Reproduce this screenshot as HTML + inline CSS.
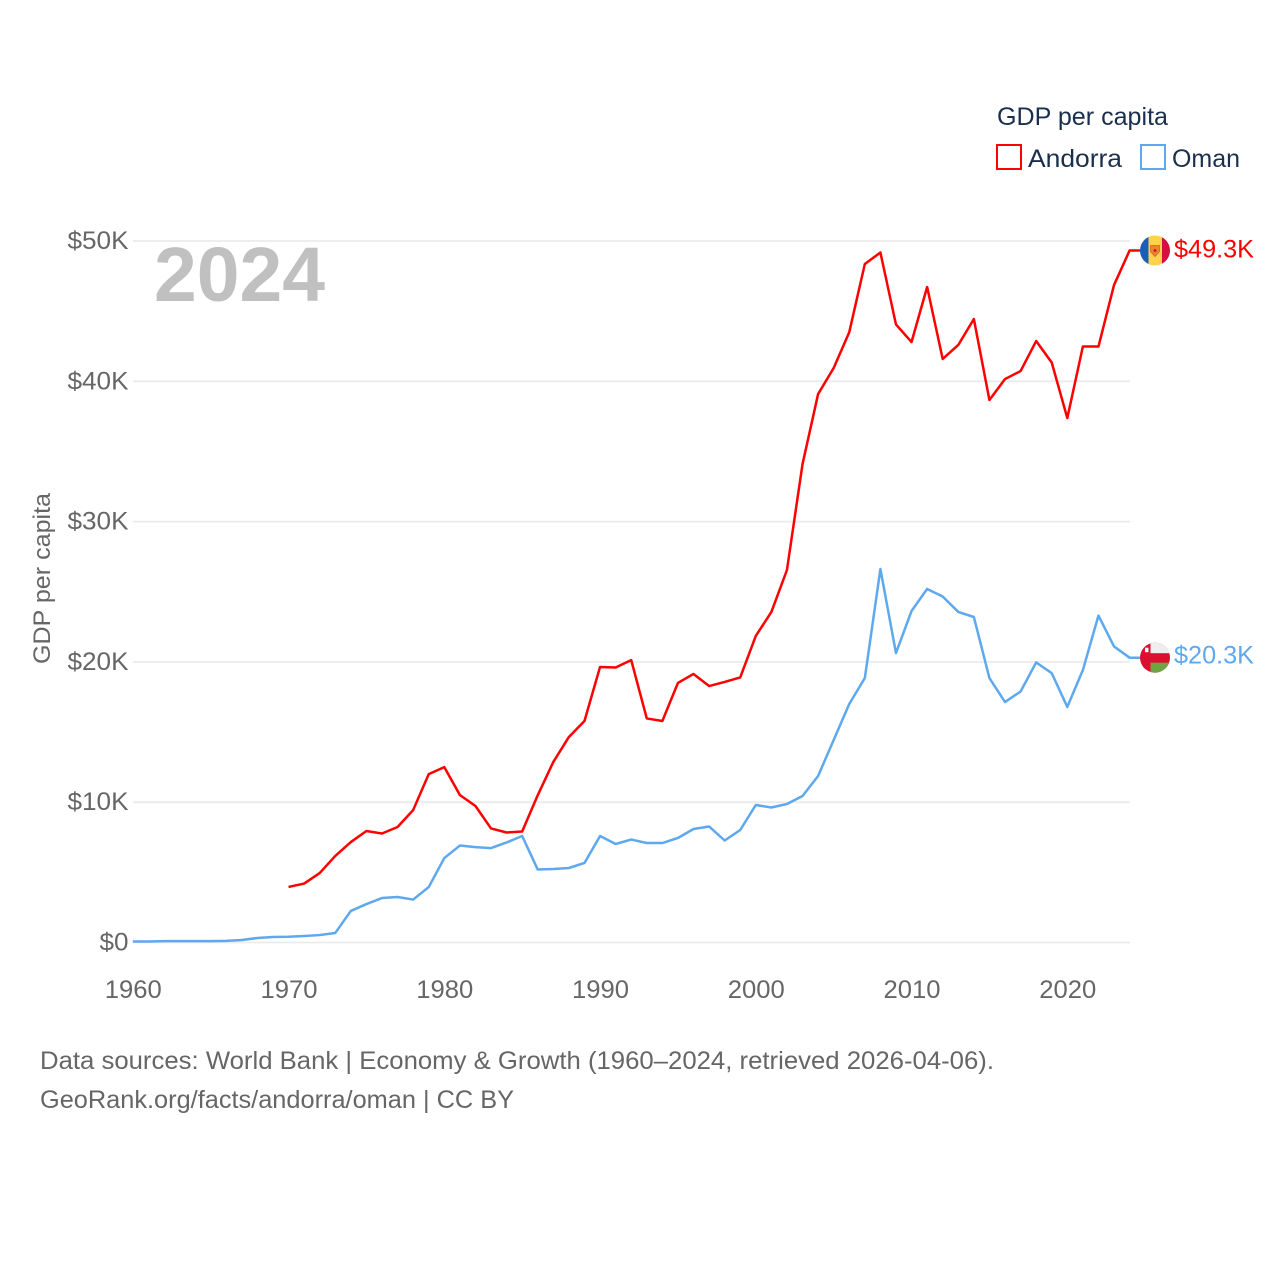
<!DOCTYPE html>
<html lang="en">
<head>
<meta charset="utf-8">
<title>GDP per capita: Andorra and Oman</title>
<style>
html,body{margin:0;padding:0;background:#fff;width:1280px;height:1280px;overflow:hidden}
svg{display:block}
text{font-family:"Liberation Sans",sans-serif}
</style>
</head>
<body>
<svg id="chart" xmlns="http://www.w3.org/2000/svg" width="1280" height="1280" viewBox="0 0 1280 1280">
  <rect x="0" y="0" width="1280" height="1280" fill="#fff"/>
  <g id="grid"></g>
  <g id="yticks"></g>
  <g id="xticks"></g>
  <text x="154" y="301" font-size="77" font-weight="700" fill="#c0c0c0" textLength="171" lengthAdjust="spacingAndGlyphs">2024</text>
  <text transform="translate(50 664) rotate(-90)" font-size="24" fill="#666" textLength="171" lengthAdjust="spacingAndGlyphs">GDP per capita</text>
  <g id="series"></g>
  <g id="flags"></g>
  <g>
    <text x="997" y="125" font-size="25" fill="#1a2f4d" textLength="171" lengthAdjust="spacingAndGlyphs">GDP per capita</text>
    <rect x="997" y="145" width="24" height="24" fill="#fff" stroke="#ff0000" stroke-width="2"/>
    <text x="1028" y="167" font-size="25" fill="#1a2f4d" textLength="94" lengthAdjust="spacingAndGlyphs">Andorra</text>
    <rect x="1141" y="145" width="24" height="24" fill="#fff" stroke="#5ea8ef" stroke-width="2"/>
    <text x="1172" y="167" font-size="25" fill="#1a2f4d" textLength="68" lengthAdjust="spacingAndGlyphs">Oman</text>
  </g>
  <text x="40" y="1069" font-size="25" fill="#666" textLength="954" lengthAdjust="spacingAndGlyphs">Data sources: World Bank | Economy &amp; Growth (1960–2024, retrieved 2026-04-06).</text>
  <text x="40" y="1108" font-size="25" fill="#666" textLength="474" lengthAdjust="spacingAndGlyphs">GeoRank.org/facts/andorra/oman | CC BY</text>
</svg>
<script>
const years = [1960,1961,1962,1963,1964,1965,1966,1967,1968,1969,1970,1971,1972,1973,1974,1975,1976,1977,1978,1979,1980,1981,1982,1983,1984,1985,1986,1987,1988,1989,1990,1991,1992,1993,1994,1995,1996,1997,1998,1999,2000,2001,2002,2003,2004,2005,2006,2007,2008,2009,2010,2011,2012,2013,2014,2015,2016,2017,2018,2019,2020,2021,2022,2023,2024];
const andorraValues = [null,null,null,null,null,null,null,null,null,null,3.96,4.2,4.95,6.17,7.16,7.95,7.77,8.23,9.44,12.0,12.5,10.51,9.73,8.13,7.84,7.91,10.5,12.87,14.65,15.79,19.64,19.6,20.13,15.97,15.79,18.5,19.14,18.28,18.57,18.89,21.85,23.56,26.55,34.1,39.09,40.95,43.5,48.36,49.18,44.05,42.8,46.72,41.59,42.59,44.44,38.67,40.16,40.73,42.87,41.34,37.38,42.48,42.48,46.86,49.32];
const omanValues = [0.07,0.07,0.1,0.1,0.1,0.1,0.12,0.18,0.32,0.39,0.41,0.46,0.53,0.68,2.25,2.74,3.17,3.24,3.06,3.95,6.02,6.91,6.8,6.73,7.13,7.59,5.2,5.24,5.31,5.67,7.59,7.02,7.34,7.09,7.09,7.45,8.09,8.27,7.27,8.02,9.8,9.62,9.87,10.44,11.87,14.43,17.0,18.85,26.62,20.63,23.63,25.2,24.66,23.56,23.2,18.85,17.14,17.89,19.96,19.2,16.79,19.42,23.3,21.1,20.3];
const yTickValues = [0,10,20,30,40,50];
const yTickLabels = ["$0","$10K","$20K","$30K","$40K","$50K"];
const xTickValues = [1960,1970,1980,1990,2000,2010,2020];
const andorraEndLabel = "$49.3K";
const omanEndLabel = "$20.3K";

const NS = "http://www.w3.org/2000/svg";
function xScale(year){ return 132.8 + (year - 1960) * (1129.6 - 132.8) / (2024 - 1960); }
function yScale(v){ return 942.5 - v * (942.5 - 241) / 50; }
function make(tag, attrs, parent){
  const el = document.createElementNS(NS, tag);
  for (const k in attrs) el.setAttribute(k, attrs[k]);
  parent.appendChild(el);
  return el;
}
const gridG = document.getElementById('grid');
const yG = document.getElementById('yticks');
const xG = document.getElementById('xticks');
const seriesG = document.getElementById('series');
const flagsG = document.getElementById('flags');

yTickValues.forEach(function(v, i){
  const line = make('line', {x1:133, x2:1130, y1:yScale(v), y2:yScale(v), stroke:'#ebebeb', 'stroke-width':1.8}, gridG);
  
  
  const lab = yTickLabels[i];
  const t = make('text', {x:128.5, y:yScale(v) + 8, 'text-anchor':'end', 'font-size':25, fill:'#666', textLength:lab.length === 2 ? 29 : 61, lengthAdjust:'spacingAndGlyphs'}, yG);
  t.textContent = lab;
  
  
});
xTickValues.forEach(function(y){
  const t = make('text', {x:xScale(y) + 0.5, y:998, 'text-anchor':'middle', 'font-size':25, fill:'#666', textLength:57, lengthAdjust:'spacingAndGlyphs'}, xG);
  t.textContent = String(y);
  
  
});
function buildPath(values){
  let d = '', last = null;
  values.forEach(function(v, i){
    if (v === null) return;
    d += (d ? 'L' : 'M') + xScale(years[i]).toFixed(2) + ' ' + yScale(v).toFixed(2);
    last = v;
  });
  d += 'L1140 ' + yScale(last).toFixed(2);
  return {d: d, last: last};
}
const omanPath = buildPath(omanValues);
const andorraPath = buildPath(andorraValues);
const omanLine = make('path', {d:omanPath.d, fill:'none', stroke:'#5ea8ef', 'stroke-width':2.5, 'stroke-linejoin':'round'}, seriesG);


const andorraLine = make('path', {d:andorraPath.d, fill:'none', stroke:'#ff0000', 'stroke-width':2.5, 'stroke-linejoin':'round'}, seriesG);



const defs = make('defs', {}, flagsG);
function clip(id, cy){
  const c = make('clipPath', {id:id}, defs);
  make('circle', {cx:1155, cy:cy, r:15}, c);
}
const ay = yScale(andorraPath.last);
const oy = yScale(omanPath.last);
clip('clip-ad', ay);
clip('clip-om', oy);

const adFlag = make('g', {'clip-path':'url(#clip-ad)'}, flagsG);


make('rect', {x:1140, y:ay-15, width:8.5, height:30, fill:'#1a5fb4'}, adFlag);
make('rect', {x:1148.5, y:ay-15, width:13.5, height:30, fill:'#fed24a'}, adFlag);
make('rect', {x:1162, y:ay-15, width:8, height:30, fill:'#d5103f'}, adFlag);
make('path', {d:'M1150.5 ' + (ay-5) + 'h9v6l-4.5 5l-4.5-5z', fill:'#e8862a', stroke:'#d5603a', 'stroke-width':0.8}, adFlag);
make('circle', {cx:1155, cy:ay, r:1.5, fill:'#d5103f'}, adFlag);

const omFlag = make('g', {'clip-path':'url(#clip-om)'}, flagsG);


make('rect', {x:1140, y:oy-16, width:30, height:32, fill:'#db0f2f'}, omFlag);
make('rect', {x:1150.5, y:oy-16, width:20, height:11.5, fill:'#eeeeee'}, omFlag);
make('rect', {x:1150.5, y:oy+5, width:20, height:11, fill:'#6da544'}, omFlag);
make('rect', {x:1145, y:oy-10, width:3.5, height:4.5, fill:'#f4f4f4'}, omFlag);

const adLabel = make('text', {x:1174, y:ay+7, 'font-size':25, fill:'#ff0000', textLength:80, lengthAdjust:'spacingAndGlyphs'}, flagsG);
adLabel.textContent = andorraEndLabel;


const omLabel = make('text', {x:1174, y:oy+6, 'font-size':25, fill:'#5ea8ef', textLength:80, lengthAdjust:'spacingAndGlyphs'}, flagsG);
omLabel.textContent = omanEndLabel;


</script>
</body>
</html>
